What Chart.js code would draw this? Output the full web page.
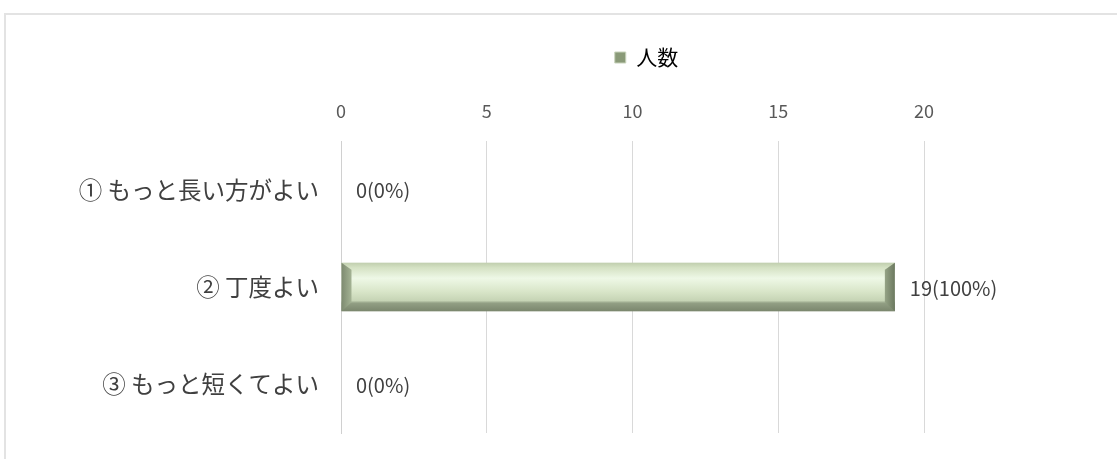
<!DOCTYPE html>
<html><head><meta charset="utf-8">
<script src="https://cdn.jsdelivr.net/npm/chart.js@4"></script>
<style>
html,body{margin:0;padding:0;background:#fff;}
#wrap{position:relative;width:1117px;height:459px;}
#frame{position:absolute;left:4px;top:13px;width:1120px;height:460px;border-top:2px solid #e3e3e3;border-left:2px solid #e3e3e3;}
canvas{position:absolute;left:0;top:0;}
</style></head>
<body><div id="wrap"><div id="frame"></div><canvas id="c" width="1117" height="459"></canvas></div>
<script>
const categories = ['① もっと長い方がよい', '② 丁度よい', '③ もっと短くてよい'];
const counts = [0, 19, 0];
const percents = ['0%', '100%', '0%'];
const seriesName = '人数';
const xTicks = [0, 5, 10, 15, 20];

const FONT = "'Noto Sans CJK JP', 'Noto Sans', sans-serif";

const barPaintPlugin = {
  id: 'barpaint',
  afterDatasetsDraw(chart) {
    const c = chart.ctx;
    chart.getDatasetMeta(0).data.forEach((el) => {
      const left = Math.min(el.base, el.x), right = Math.max(el.base, el.x);
      if (right - left < 2) return;
      const top = el.y - el.height / 2, bottom = el.y + el.height / 2;
      c.save();
      const g = c.createLinearGradient(0, top, 0, bottom);
      g.addColorStop(0, '#c0ceae');
      g.addColorStop(0.1, '#d4e1c3');
      g.addColorStop(0.32, '#eef8e6');
      g.addColorStop(0.6, '#d8e5c8');
      g.addColorStop(0.78, '#c6d4b5');
      g.addColorStop(0.83, '#929f84');
      g.addColorStop(1, '#7a866d');
      c.fillStyle = g;
      c.fillRect(left, top, right - left, bottom - top);
      const b = 10;
      let lg = c.createLinearGradient(left, 0, left + b, 0);
      lg.addColorStop(0, '#7d8a70'); lg.addColorStop(1, '#a4b394');
      c.fillStyle = lg;
      c.beginPath();
      c.moveTo(left, top); c.lineTo(left + b, top + 7);
      c.lineTo(left + b, bottom - 9); c.lineTo(left, bottom); c.closePath(); c.fill();
      lg = c.createLinearGradient(right - b, 0, right, 0);
      lg.addColorStop(0, '#95a386'); lg.addColorStop(1, '#6c7960');
      c.fillStyle = lg;
      c.beginPath();
      c.moveTo(right, top); c.lineTo(right - b, top + 7);
      c.lineTo(right - b, bottom - 9); c.lineTo(right, bottom); c.closePath(); c.fill();
      c.restore();
    });
  }
};

const labelPlugin = {
  id: 'vlabels',
  afterDatasetsDraw(chart) {
    const c = chart.ctx;
    c.save();
    c.font = "20px " + FONT;
    c.fillStyle = '#404040';
    c.textBaseline = 'middle';
    c.textAlign = 'left';
    chart.getDatasetMeta(0).data.forEach((el, i) => {
      c.fillText(counts[i] + '(' + percents[i] + ')', el.x + 15, el.y + 1);
    });
    c.restore();
  }
};

const legendShift = {
  id: 'legendShift',
  afterLayout(chart) {
    if (chart.legend) { chart.legend.left += 14; chart.legend.right += 14; }
  }
};

new Chart(document.getElementById('c'), {
  type: 'bar',
  data: {
    labels: categories,
    datasets: [{
      label: seriesName,
      data: counts,
      backgroundColor: 'rgba(0,0,0,0)',
      borderWidth: 0,
      barPercentage: 0.5,
      categoryPercentage: 1.0
    }]
  },
  options: {
    indexAxis: 'y',
    responsive: false,
    animation: false,
    devicePixelRatio: 1,
    layout: { padding: { left: 0, right: 193, top: 39, bottom: 0 } },
    plugins: {
      tooltip: { enabled: false },
      legend: {
        display: true,
        position: 'top',
        fullSize: false,
        labels: {
          boxWidth: 11, boxHeight: 11,
          color: '#595959',
          font: { family: FONT, size: 21 },
          padding: 8,
          generateLabels(chart) {
            return [{ text: seriesName, fillStyle: '#8a9a78', strokeStyle: '#c8d3bb', lineWidth: 1, datasetIndex: 0 }];
          }
        }
      }
    },
    scales: {
      x: {
        position: 'top',
        min: 0, max: 20,
        afterBuildTicks(scale) { scale.ticks = xTicks.map(v => ({ value: v })); },
        afterFit(scale) { scale.height = 63; },
        ticks: { color: '#595959', font: { family: FONT, size: 18 }, padding: 19 },
        grid: { color: '#d9d9d9', lineWidth: 1, drawTicks: false },
        border: { display: false }
      },
      y: {
        afterFit(scale) { scale.width = 341; scale.paddingTop = 0; scale.paddingBottom = 26; },
        ticks: { color: '#404040', font: { family: FONT, size: 23.5 }, padding: 22 },
        grid: { display: false, drawTicks: false },
        border: { display: true, color: '#d0d0d0', width: 1 }
      }
    }
  },
  plugins: [barPaintPlugin, labelPlugin, legendShift]
});
</script></body></html>
